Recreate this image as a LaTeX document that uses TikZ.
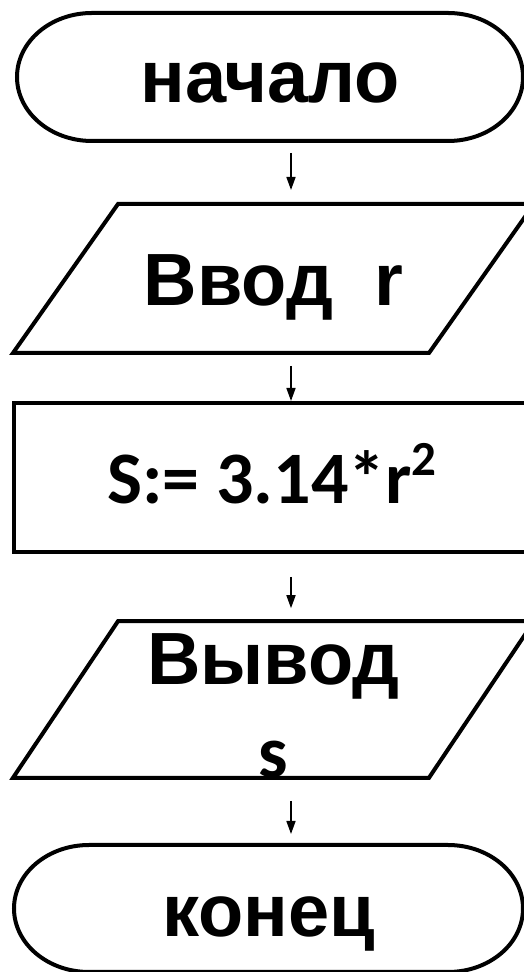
\documentclass[tikz,border=0pt]{standalone}
\usepackage{fontspec}
\setmainfont{Liberation Sans}
\newfontfamily\calibrifont{Carlito}
\usepackage{tikz}
\usetikzlibrary{positioning,arrows.meta,calc}

\begin{document}
\begin{tikzpicture}[x=1pt,y=1pt,
  blockline/.style={draw=drawColor,line width=4pt,line join=miter},
  blocktext/.style={rectangle,inner sep=0pt,outer sep=0pt,
    font=\fontsize{74}{89}\selectfont\bfseries},
  termbox/.style={blocktext,minimum height=128pt,text depth=0pt},
  iobox/.style={blocktext,minimum width=416pt,minimum height=149pt},
  calcbox/.style={blocktext,blockline,minimum width=516pt,minimum height=149pt,
    font=\calibrifont\fontsize{74}{89}\selectfont\bfseries,text depth=0pt},
  flow/.style={draw=drawColor,line width=1.6pt,-{Triangle[length=13pt,width=9pt]}}]
\definecolor{fillColor}{RGB}{255,255,255}
\definecolor{drawColor}{RGB}{0,0,0}
\path[use as bounding box,fill=fillColor] (0,0) rectangle (524,972);

\node[termbox,minimum width=356pt,text height=52pt] (start) at (270,895) {начало};
\draw[blockline] (start.north west)
  arc[start angle=90,end angle=270,x radius=75pt,y radius=64pt] -- (start.south east)
  arc[start angle=-90,end angle=90,x radius=75pt,y radius=64pt] -- cycle;

\node[iobox,text height=55pt,text depth=0pt] (in) at (273.5,693.5) {Ввод\ \ r};
\draw[blockline] ($(in.south west)+(-52.5,0)$) -- ($(in.south east)+(-52.5,0)$)
  -- ($(in.north east)+(52.5,0)$) -- ($(in.north west)+(52.5,0)$) -- cycle;

\node[calcbox,text height=53pt] (area) at (272,494.5) {S:= 3.14*r\raisebox{28pt}{\fontsize{49}{49}\selectfont 2}};

\node[iobox,align=center] (out) at (273.5,272.5) {\rule{0pt}{63pt}Вывод\\[4pt]{\calibrifont s}};
\draw[blockline] ($(out.south west)+(-52.5,0)$) -- ($(out.south east)+(-52.5,0)$)
  -- ($(out.north east)+(52.5,0)$) -- ($(out.north west)+(52.5,0)$) -- cycle;

\node[termbox,minimum width=359pt,minimum height=127pt,text height=56pt] (stop) at (268.5,63.5) {конец};
\draw[blockline] (stop.north west)
  arc[start angle=90,end angle=270,x radius=75pt,y radius=63.5pt] -- (stop.south east)
  arc[start angle=-90,end angle=90,x radius=75pt,y radius=63.5pt] -- cycle;

\coordinate (ax) at (291,0);
\draw[flow] ($(start.south -| ax)+(0,-12)$) -- ($(in.north -| ax)+(0,14)$);
\draw[flow] ($(in.south -| ax)+(0,-13)$) -- ($(area.north -| ax)+(0,2)$);
\draw[flow] ($(area.south -| ax)+(0,-25)$) -- ($(out.north -| ax)+(0,13)$);
\draw[flow] ($(out.south -| ax)+(0,-23)$) -- ($(stop.north -| ax)+(0,11)$);
\end{tikzpicture}
\end{document}
